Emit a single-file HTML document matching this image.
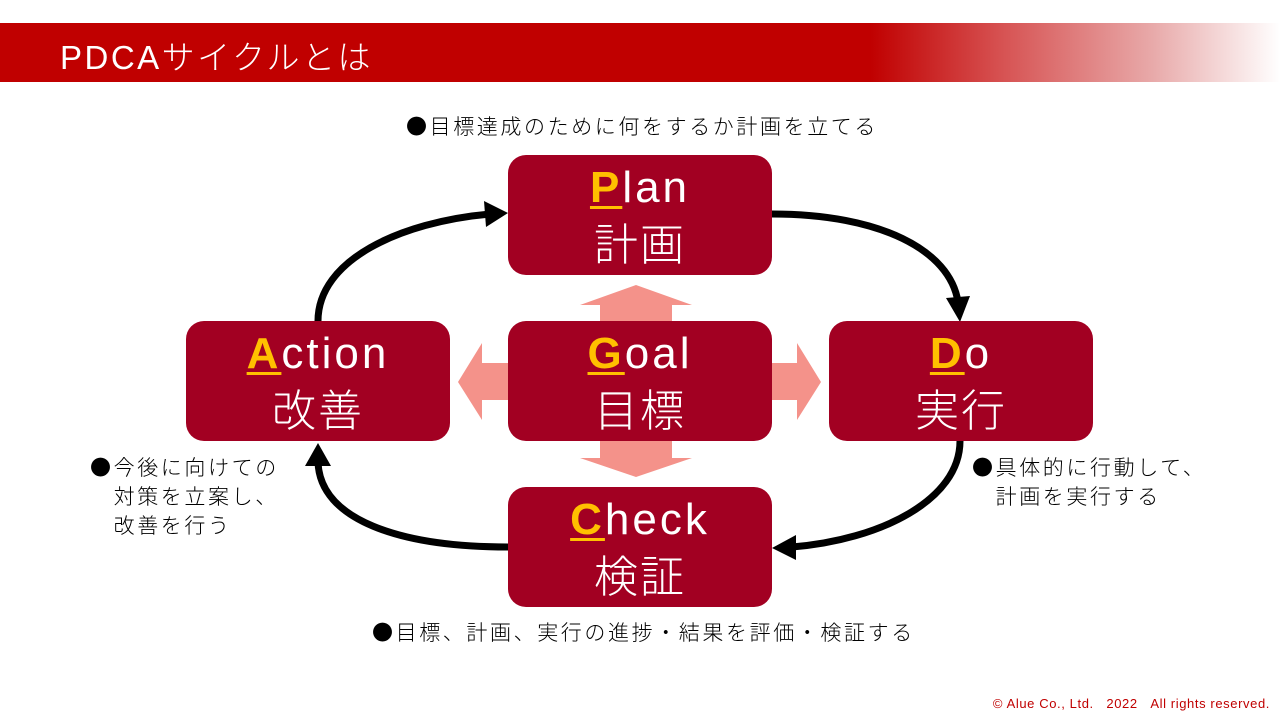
<!DOCTYPE html>
<html><head><meta charset="utf-8"><style>
body{margin:0;width:1280px;height:720px;background:#fff;position:relative;overflow:hidden;font-family:"Liberation Sans","Noto Sans CJK JP",sans-serif}
.hdr{position:absolute;left:0;top:23px;width:1280px;height:59px;background:linear-gradient(90deg,#c00000 0,#c00000 68%,#d65050 78%,#e8a9a9 90%,#fff 100%)}
.hdr span{position:absolute;left:60px;top:8px;color:#fff;font-size:33px;letter-spacing:2.5px;font-weight:300}
.box{position:absolute;width:264px;height:120px;background:#a20022;border-radius:18px;color:#fff;text-align:center;font-size:44px;line-height:58px;font-weight:300}
.box .l1{margin-top:4px;letter-spacing:3px}
.box .l2{letter-spacing:2px}
.box b{color:#ffc000;font-weight:bold;text-decoration:underline;text-underline-offset:4px;text-decoration-thickness:3px}
.cap{position:absolute;font-family:"Noto Sans CJK JP",sans-serif;font-size:21px;letter-spacing:2.6px;color:#000;line-height:29px;font-weight:300;white-space:nowrap}
.ft{position:absolute;right:10px;top:696px;font-size:13px;color:#c00000;letter-spacing:0.6px}
</style></head><body>
<div class="hdr"><span>PDCAサイクルとは</span></div>
<svg width="1280" height="720" style="position:absolute;left:0;top:0">
<g fill="#f4928a">
<polygon points="636,285 692,305 672,305 672,321 600,321 600,305 580,305"/>
<polygon points="600,441 672,441 672,458 692,458 636,477 580,458 600,458"/>
<polygon points="458,382 482,343 482,363 508,363 508,400 482,400 482,420"/>
<polygon points="821,382 797,343 797,363 772,363 772,400 797,400 797,420"/>
</g>
<g fill="none" stroke="#000" stroke-width="7">
<path d="M318,321 C318,260 400,222 490,214"/>
<path d="M772,214 C880,214 950,250 958,302"/>
<path d="M960,441 C960,500 880,540 792,547"/>
<path d="M508,547 C400,547 320,520 318,462"/>
</g>
<g fill="#000">
<polygon points="508,213 484,201 486,227"/>
<polygon points="960,322 946,298 970,296"/>
<polygon points="772,548 796,535 796,560"/>
<polygon points="318,443 305,466 331,466"/>
</g>
</svg>
<div class="box" style="left:508px;top:155px"><div class="l1"><b>P</b>lan</div><div class="l2">計画</div></div>
<div class="box" style="left:508px;top:321px"><div class="l1"><b>G</b>oal</div><div class="l2">目標</div></div>
<div class="box" style="left:186px;top:321px"><div class="l1"><b>A</b>ction</div><div class="l2">改善</div></div>
<div class="box" style="left:829px;top:321px"><div class="l1"><b>D</b>o</div><div class="l2">実行</div></div>
<div class="box" style="left:508px;top:487px"><div class="l1"><b>C</b>heck</div><div class="l2">検証</div></div>
<div class="cap" style="left:406px;top:112px">●目標達成のために何をするか計画を立てる</div>
<div class="cap" style="left:90px;top:453px">●今後に向けての<br>　対策を立案し、<br>　改善を行う</div>
<div class="cap" style="left:972px;top:453px">●具体的に行動して、<br>　計画を実行する</div>
<div class="cap" style="left:372px;top:618px">●目標、計画、実行の進捗・結果を評価・検証する</div>
<div class="ft">© Alue Co., Ltd.&nbsp;&nbsp;&nbsp;2022&nbsp;&nbsp;&nbsp;All rights reserved.</div>
</body></html>
